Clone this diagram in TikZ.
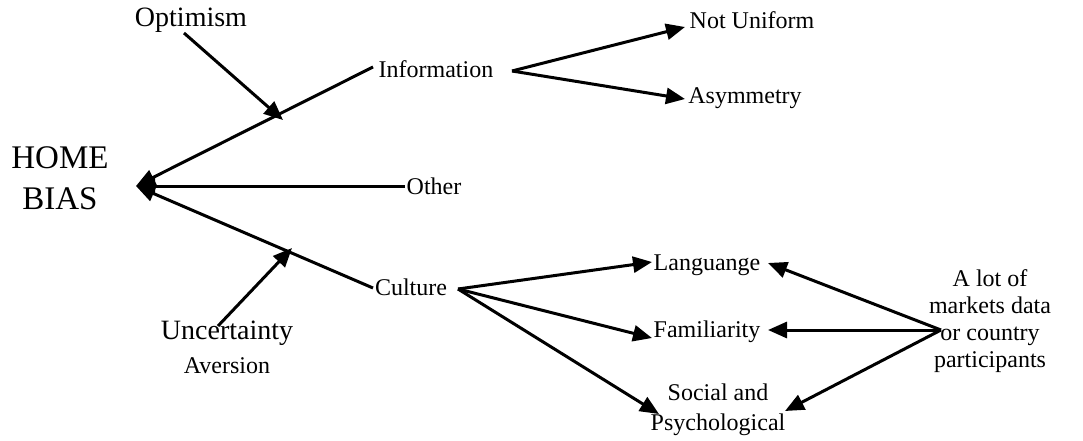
\documentclass[tikz,border=0pt]{standalone}
\usepackage{fontspec}
\setmainfont{Liberation Serif}
\usetikzlibrary{arrows.meta}
\begin{document}
\begin{tikzpicture}[x=1pt,y=-1pt,
  lbl/.style={inner sep=1pt, font=\fontsize{24}{27}\selectfont, align=center},
  big/.style={inner sep=1pt, font=\fontsize{28}{32}\selectfont, align=center},
  conn/.style={line width=3pt},
  arr/.style={conn, -{Triangle[length=19pt,width=16pt]}}]
\useasboundingbox (0,0) rectangle (1083,441);
% nodes
\node[inner sep=1pt, font=\fontsize{33}{41}\selectfont, align=center] (hb) at (60,178) {HOME\\BIAS};
\node[big] (opt) at (191,20) {Optimism};
\node[lbl] (info) at (436,69) {Information};
\node[lbl] (other) at (434,186) {Other};
\node[lbl] (cult) at (411,287) {Culture};
\node[big] (unc) at (227,333) {Uncertainty};
\node[lbl] (aver) at (227,366) {Aversion};
\node[lbl] (nu) at (752,20) {Not Uniform};
\node[lbl] (asym) at (745,98) {Asymmetry};
\node[lbl] (lang) at (707,265) {Languange};
\node[lbl] (fam) at (707,332) {Familiarity};
\node[inner sep=1pt, font=\fontsize{24}{30}\selectfont, align=center] (soc) at (718,410) {Social and\\Psychological};
\node[lbl] (note) at (990,321) {A lot of\\markets data\\or country\\participants};
% junction coordinates
\coordinate (hbtip) at (136,186);
\coordinate (infoend) at (373,67);
\coordinate (otherend) at (405,186);
\coordinate (cultend) at (373,288);
\coordinate (opttip) at (283,120);
\coordinate (optstart) at (184,33);
\coordinate (unctip) at (292,248);
\coordinate (uncstart) at (218,326);
\coordinate (infoout) at (512,71);
\coordinate (nutip) at (685,27);
\coordinate (asymtip) at (685,99);
\coordinate (cultout) at (458,289);
\coordinate (langtip) at (652,262);
\coordinate (famtip) at (652,338);
\coordinate (soctip) at (659,414);
\coordinate (src) at (941,330);
\coordinate (langtip2) at (768,263);
\coordinate (famtip2) at (768,330);
\coordinate (soctip2) at (785,411);
% connectors
\draw[arr] (infoend) -- (hbtip);
\draw[arr] (otherend) -- (hbtip);
\draw[arr] (cultend) -- (hbtip);
\draw[arr] (optstart) -- (opttip);
\draw[arr] (uncstart) -- (unctip);
\draw[arr] (infoout) -- (nutip);
\draw[arr] (infoout) -- (asymtip);
\draw[arr] (cultout) -- (langtip);
\draw[arr] (cultout) -- (famtip);
\draw[arr] (cultout) -- (soctip);
\draw[arr] (src) -- (langtip2);
\draw[arr] (src) -- (famtip2);
\draw[arr] (src) -- (soctip2);
\end{tikzpicture}
\end{document}
